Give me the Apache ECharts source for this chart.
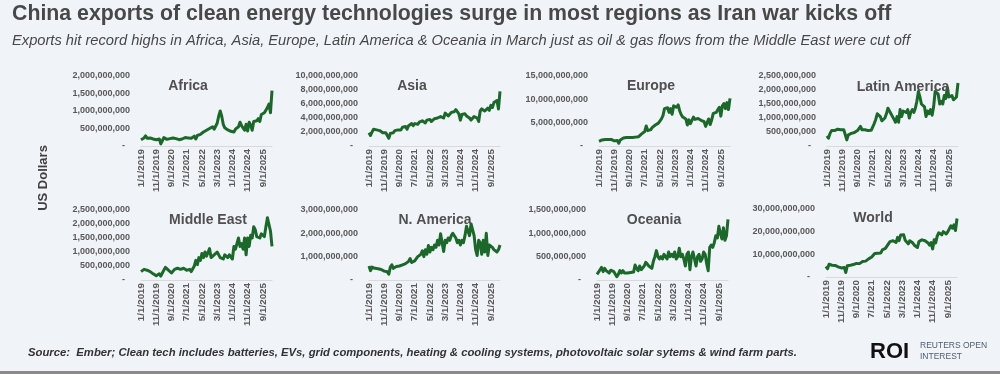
<!DOCTYPE html>
<html>
<head>
<meta charset="utf-8">
<script src="https://cdn.jsdelivr.net/npm/echarts@6/dist/echarts.min.js"></script>
<style>
html,body{margin:0;padding:0;background:#f0f3f7;}
#chart{width:1000px;height:374px;}
</style>
</head>
<body>
<div id="chart"></div>
<script>
// Monthly exports, billions of US dollars, Jan 2019 - Mar 2026
const africa = [0.18,0.15,0.23,0.29,0.22,0.20,0.23,0.21,0.20,0.23,0.18,0.22,
  0.20,0.06,0.15,0.24,0.20,0.19,0.23,0.21,0.20,0.23,0.19,0.21,
  0.17,0.18,0.22,0.20,0.23,0.24,0.21,0.23,0.25,0.22,0.24,0.28,
  0.20,0.30,0.25,0.33,0.35,0.40,0.38,0.45,0.42,0.50,0.47,0.55,
  0.48,0.52,0.65,0.85,1.00,0.85,0.62,0.52,0.48,0.46,0.47,0.42,
  0.45,0.40,0.48,0.50,0.55,0.68,0.58,0.60,0.45,0.62,0.43,0.68,
  0.60,0.45,0.70,0.75,0.72,0.78,0.70,0.90,0.88,0.95,1.00,1.10,
  1.20,0.95,1.58];
const asia = [1.9,1.5,2.0,2.4,2.2,2.3,2.1,2.2,2.0,1.9,1.8,1.9,
  1.9,1.1,1.8,2.0,1.9,2.2,2.0,2.3,2.4,2.3,2.7,2.6,
  2.8,2.4,2.9,3.0,3.2,2.9,3.2,3.3,3.1,3.4,3.3,3.6,
  3.7,3.3,3.7,3.6,3.8,3.5,3.6,3.9,3.7,4.0,3.9,4.2,
  4.3,4.0,4.7,4.6,4.3,4.5,4.8,4.6,4.9,5.2,5.0,4.6,
  3.7,4.5,4.4,4.6,4.3,4.1,4.0,3.7,3.9,4.2,4.3,4.0,
  3.5,5.0,5.3,5.1,5.0,5.2,5.4,5.1,5.8,5.5,6.2,6.0,
  6.5,5.3,7.8];
const europe = [1.0,1.1,1.3,1.5,1.4,1.5,1.4,1.3,1.4,1.2,1.1,1.3,
  1.2,0.6,1.3,1.5,1.7,1.9,1.8,1.7,1.8,2.0,1.8,1.9,
  1.9,1.7,2.0,2.3,2.6,2.9,3.1,4.3,3.3,3.6,3.5,4.0,
  3.8,4.5,4.3,4.9,4.8,5.8,6.5,8.0,7.6,8.2,7.2,8.0,
  6.8,8.6,8.8,8.3,8.8,7.5,6.7,6.2,6.6,5.8,4.5,5.6,
  4.8,5.5,6.2,5.7,6.1,5.9,5.6,5.5,5.7,5.2,4.2,3.8,
  5.8,4.6,5.6,7.0,7.4,7.2,7.8,8.3,6.4,8.6,9.1,8.0,
  9.3,7.8,10.2];
const latinAmerica = [0.36,0.28,0.45,0.55,0.50,0.55,0.52,0.60,0.62,0.58,0.55,0.58,
  0.55,0.22,0.40,0.38,0.45,0.42,0.48,0.50,0.55,0.52,0.70,0.58,
  0.62,0.58,0.60,0.55,0.58,0.56,0.60,0.80,0.95,1.15,1.20,1.05,
  0.90,0.95,1.00,1.15,1.35,1.25,1.15,1.05,0.95,0.85,1.05,0.85,
  1.30,1.05,1.25,1.30,1.20,1.30,1.00,1.20,1.30,1.20,1.35,1.60,
  1.95,1.75,1.50,1.50,1.40,1.05,1.25,1.15,1.30,1.10,1.40,1.95,
  1.90,1.85,1.50,1.60,1.50,1.80,1.70,2.10,1.75,1.70,1.80,1.65,
  1.70,1.75,2.25];
const middleEast = [0.30,0.25,0.38,0.40,0.35,0.38,0.30,0.28,0.22,0.20,0.15,0.18,
  0.22,0.14,0.25,0.30,0.45,0.42,0.35,0.30,0.25,0.30,0.38,0.40,
  0.42,0.45,0.38,0.35,0.42,0.38,0.35,0.42,0.38,0.30,0.40,0.50,
  0.70,0.55,0.80,0.70,0.95,0.80,1.00,0.85,0.90,1.12,0.80,0.85,
  0.90,0.95,1.00,0.95,0.80,0.85,0.75,0.90,0.85,0.80,0.90,0.95,
  0.75,1.20,1.10,1.30,1.50,1.20,1.30,1.10,1.50,0.90,1.50,1.20,
  1.60,1.50,1.90,1.80,1.55,1.60,1.50,1.65,1.60,1.55,1.90,2.22,
  2.20,1.75,1.20];
const nAmerica = [0.60,0.40,0.55,0.48,0.50,0.45,0.48,0.42,0.45,0.40,0.38,0.42,
  0.35,0.25,0.55,0.65,0.50,0.55,0.58,0.55,0.60,0.62,0.65,0.60,
  0.70,0.75,0.80,0.92,0.75,0.80,0.82,0.90,1.00,1.05,1.10,1.25,
  1.00,1.30,1.10,1.48,1.20,1.40,1.30,1.50,1.40,1.70,1.50,1.98,
  1.90,1.22,1.70,1.60,1.80,1.70,1.90,2.00,2.05,1.80,1.60,1.70,
  1.50,1.70,1.60,1.90,2.30,2.10,1.90,2.40,2.45,1.90,1.30,1.05,
  1.70,1.60,1.10,1.70,1.20,2.00,1.05,1.50,1.50,1.40,1.30,1.25,
  1.20,1.30,1.50];
const oceania = [0.12,0.15,0.22,0.27,0.18,0.25,0.20,0.23,0.15,0.21,0.25,0.18,
  0.15,0.07,0.12,0.20,0.15,0.20,0.15,0.12,0.15,0.12,0.16,0.20,
  0.17,0.32,0.25,0.20,0.30,0.22,0.25,0.30,0.38,0.35,0.30,0.32,
  0.25,0.40,0.50,0.63,0.50,0.45,0.50,0.45,0.55,0.50,0.45,0.60,
  0.50,0.55,0.50,0.60,0.45,0.50,0.68,0.50,0.55,0.45,0.30,0.55,
  0.60,0.22,0.50,0.60,0.45,0.30,0.50,0.55,0.40,0.45,0.60,0.55,
  0.35,0.20,0.70,0.75,0.70,0.80,0.95,0.90,1.15,1.00,0.88,1.12,
  0.85,0.95,1.30];
const world = [4.7,3.6,5.6,5.4,5.2,5.0,5.1,4.9,4.5,4.8,4.0,3.8,
  4.2,2.0,5.0,5.4,5.2,5.8,5.5,5.7,6.0,6.2,5.9,6.4,
  6.8,6.5,7.0,7.6,8.0,8.4,8.8,9.2,10.4,9.6,10.5,11.0,
  10.6,12.0,11.6,12.6,13.6,14.6,15.6,15.0,16.0,15.4,15.2,17.5,
  16.0,18.5,19.0,18.6,16.2,15.6,14.6,16.0,15.4,15.0,14.0,13.4,
  13.0,15.6,16.0,16.4,15.6,16.0,15.4,15.0,14.0,15.2,12.4,16.4,
  15.0,18.0,19.5,19.0,18.6,20.0,19.6,19.0,20.0,20.6,22.6,21.5,
  23.0,20.5,25.8];

const panelNames = ['Africa','Asia','Europe','Latin America','Middle East','N. America','Oceania','World'];
const panelData = [africa, asia, europe, latinAmerica, middleEast, nAmerica, oceania, world];
const yMax = [2, 10, 15, 2.5, 2.5, 3, 1.5, 30];
const yStep = [0.5, 2, 5, 0.5, 0.5, 1, 0.5, 10];

// category labels: first of each month, Jan 2019 .. Mar 2026
const months = [];
for (let i = 0; i < africa.length; i++) {
  months.push(((i % 12) + 1) + '/1/' + (2019 + Math.floor(i / 12)));
}

// layout
const gridBox = [
  {left:141, top:76, width:131, height:70},
  {left:369, top:76, width:131, height:70},
  {left:599, top:76, width:131, height:70},
  {left:827, top:76, width:131, height:70},
  {left:141, top:210, width:131, height:70},
  {left:369, top:210, width:131, height:70},
  {left:597, top:210, width:131, height:70},
  {left:826, top:209, width:131, height:68}
];
const titlePos = [[188,86],[412,86],[651,86],[903,87],[208,220],[435,220],[654,220],[873,218]];

const FONT = '"Liberation Sans", Arial, sans-serif';
const lblColor = '#595959';

function fmt(v) {
  if (v === 0) return '-  ';
  return Math.round(v * 1e9).toLocaleString('en-US');
}

const grids = [], xAxes = [], yAxes = [], series = [], graphics = [];
panelData.forEach((d, i) => {
  grids.push(Object.assign({containLabel:false}, gridBox[i]));
  xAxes.push({
    type:'category', gridIndex:i, data:months, boundaryGap:false,
    axisTick:{show:false},
    axisLine:{show:true, lineStyle:{color:'#d9d9d9', width:1}},
    axisLabel:{rotate:90, interval:9, fontSize:9.8, fontWeight:'bold', color:lblColor, fontFamily:FONT, margin:3}
  });
  yAxes.push({
    type:'value', gridIndex:i, min:0, max:yMax[i], interval:yStep[i],
    splitLine:{show:false}, axisLine:{show:false}, axisTick:{show:false},
    axisLabel:{fontSize:9, fontWeight:'bold', color:lblColor, fontFamily:FONT, margin:11, formatter:fmt}
  });
  series.push({
    type:'line', name:panelNames[i], xAxisIndex:i, yAxisIndex:i, data:d,
    showSymbol:false, symbol:'none', animation:false, z:3,
    lineStyle:{color:'#1c682b', width:3, join:'round'}
  });
  graphics.push({
    type:'text', x:titlePos[i][0], y:titlePos[i][1], z:10,
    style:{text:panelNames[i], font:'bold 14px ' + FONT, fill:'#505050', align:'center', verticalAlign:'middle'}
  });
});

graphics.push(
  {type:'text', x:12, y:4, style:{text:'China exports of clean energy technologies surge in most regions as Iran war kicks off', font:'bold 21.3px ' + FONT, fill:'#484848', verticalAlign:'top'}},
  {type:'text', x:12, y:33, style:{text:'Exports hit record highs in Africa, Asia, Europe, Latin America & Oceania in March just as oil & gas flows from the Middle East were cut off', font:'italic 14.7px ' + FONT, fill:'#484848', verticalAlign:'top'}},
  {type:'text', x:43, y:178, rotation:Math.PI/2, style:{text:'US Dollars', font:'bold 13px ' + FONT, fill:'#404040', align:'center', verticalAlign:'middle'}},
  {type:'text', x:28, y:353, style:{text:'Source:  Ember; Clean tech includes batteries, EVs, grid components, heating & cooling systems, photovoltaic solar sytems & wind farm parts.', font:'italic bold 11.3px ' + FONT, fill:'#333333', verticalAlign:'middle'}},
  {type:'text', x:870, y:352, style:{text:'ROI', font:'bold 22px ' + FONT, fill:'#111111', verticalAlign:'middle'}},
  {type:'text', x:920, y:346, style:{text:'REUTERS OPEN', font:'8.5px ' + FONT, fill:'#4d5f70', verticalAlign:'middle'}},
  {type:'text', x:920, y:357, style:{text:'INTEREST', font:'8.5px ' + FONT, fill:'#4d5f70', verticalAlign:'middle'}},
  {type:'rect', shape:{x:0, y:371, width:1000, height:3}, style:{fill:'#8a8a8a'}}
);

const chart = echarts.init(document.getElementById('chart'), null, {renderer:'canvas'});
chart.setOption({
  backgroundColor:'#f0f3f7',
  animation:false,
  grid:grids, xAxis:xAxes, yAxis:yAxes, series:series, graphic:graphics
});
</script>
</body>
</html>
